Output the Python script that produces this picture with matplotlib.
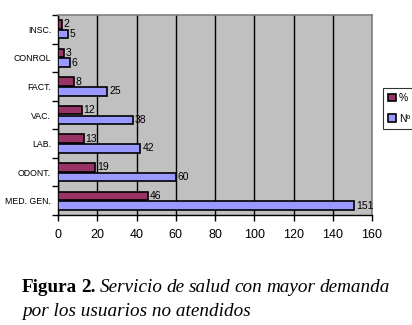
import matplotlib
matplotlib.use("Agg")
import matplotlib.pyplot as plt
import numpy as np
from matplotlib.ticker import FixedLocator, NullFormatter

categories = ["INSC.", "CONROL", "FACT.", "VAC.", "LAB.", "ODONT.", "MED. GEN."]
pct = [2, 3, 8, 12, 13, 19, 46]
num = [5, 6, 25, 38, 42, 60, 151]
xticks = [0, 20, 40, 60, 80, 100, 120, 140, 160]

plt.rcParams['font.family'] = ['Liberation Sans', 'DejaVu Sans']

fig = plt.figure(figsize=(4.12, 3.25), dpi=100)
ax = fig.add_axes([58/412, 1-215/325, (372-58)/412, 200/325])
ax.set_facecolor('#C0C0C0')

n = len(categories)
y = np.arange(n)  # 0 at top
h = 0.3
b1 = ax.barh(y - h/2 - 0.02, pct, height=h, color='#993366', edgecolor='black', linewidth=1.2, label='%', zorder=3)
b2 = ax.barh(y + h/2 + 0.02, num, height=h, color='#9999FF', edgecolor='black', linewidth=1.2, label='Nº', zorder=3)

for rect, v in zip(b1, pct):
    ax.text(rect.get_width() + 1, rect.get_y() + rect.get_height()/2, str(v), va='center', ha='left', fontsize=7.5, zorder=4)
for rect, v in zip(b2, num):
    ax.text(rect.get_width() + 1, rect.get_y() + rect.get_height()/2, str(v), va='center', ha='left', fontsize=7.5, zorder=4)

ax.set_xlim(0, 160)
ax.set_ylim(n - 0.5, -0.5)
ax.set_xticks(xticks)
ax.set_xticklabels([str(t) for t in xticks], fontsize=9)
ax.xaxis.grid(True, color='black', linewidth=1.0, zorder=1)
ax.set_axisbelow(True)

ax.set_yticks(y)
ax.set_yticklabels(categories, fontsize=6.3)
ax.tick_params(axis='y', which='major', length=0, pad=5)
ax.yaxis.set_minor_locator(FixedLocator(np.arange(-0.5, n, 1.0)))
ax.yaxis.set_minor_formatter(NullFormatter())
ax.tick_params(axis='y', which='minor', length=4, direction='out', width=1)
ax.tick_params(axis='x', length=4, direction='out', width=1, pad=6)

for s in ['top', 'right']:
    ax.spines[s].set_color('#808080')
    ax.spines[s].set_linewidth(1.2)
for s in ['left', 'bottom']:
    ax.spines[s].set_color('black')
    ax.spines[s].set_linewidth(1.0)

leg = fig.legend(handles=[b1, b2], labels=['%', 'Nº'], loc='upper left',
                 bbox_to_anchor=(383/412, 1-88/325), fontsize=7.5, frameon=True,
                 fancybox=False, edgecolor='black', handlelength=0.7, handleheight=0.7,
                 handletextpad=0.3, borderpad=0.5, labelspacing=1.0, borderaxespad=0)
leg.get_frame().set_linewidth(0.8)

# caption, first line justified
serif = ['Liberation Serif', 'DejaVu Serif']
fs = 13.8
renderer = fig.canvas.get_renderer()
words = [("Figura", 'bold', 'normal'), ("2.", 'bold', 'normal'),
         ("Servicio", 'normal', 'italic'), ("de", 'normal', 'italic'), ("salud", 'normal', 'italic'),
         ("con", 'normal', 'italic'), ("mayor", 'normal', 'italic'), ("demanda", 'normal', 'italic')]
x0, x1 = 22, 390
texts = []
for w, wt, st in words:
    t = fig.text(0, 1-292/325, w, fontsize=fs, fontweight=wt, style=st, family=serif,
                 va='baseline', ha='left')
    texts.append(t)
widths = [t.get_window_extent(renderer).width for t in texts]
gap = (x1 - x0 - sum(widths)) / (len(words) - 1)
xp = x0
for t, wd in zip(texts, widths):
    t.set_x(xp/412)
    xp += wd + gap
fig.text(22/412, 1-316/325, "por los usuarios no atendidos", fontsize=fs, style='italic',
         family=serif, va='baseline', ha='left')

fig.savefig('out.png', dpi=100)
